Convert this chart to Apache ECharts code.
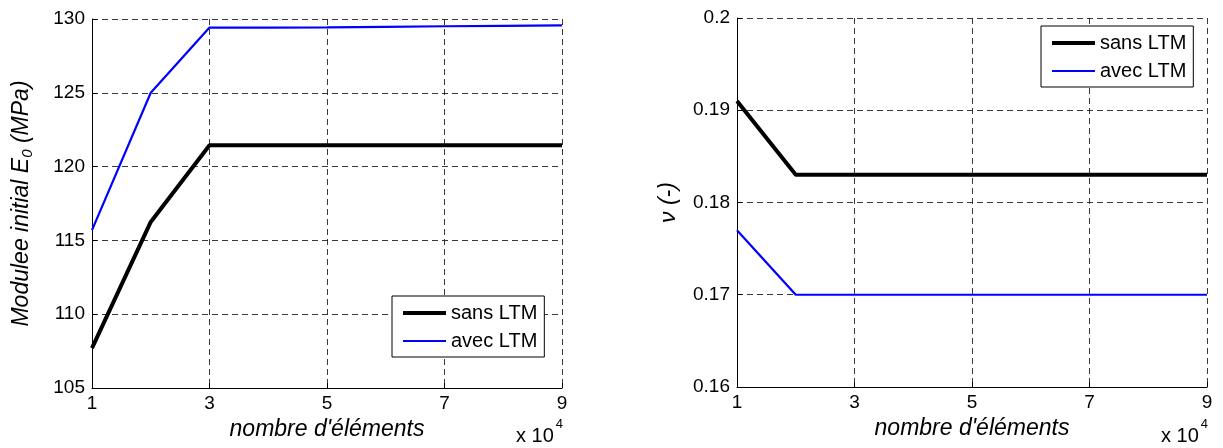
<!DOCTYPE html>
<html>
<head>
<meta charset="utf-8">
<script src="https://cdn.jsdelivr.net/npm/echarts@6/dist/echarts.min.js"></script>
<style>
html,body{margin:0;padding:0;background:#fff;}
#chart{width:1223px;height:448px;}
</style>
</head>
<body>
<div id="chart"></div>
<script>
// x values in units of 10^4 elements
const xValues = [1, 2, 3, 4, 5, 6, 7, 8, 9];
const xTicks = [1, 3, 5, 7, 9];
const seriesNames = ['sans LTM', 'avec LTM'];
// Left panel: initial modulus E0 (MPa)
const e0Sans = [107.7, 116.25, 121.45, 121.45, 121.45, 121.45, 121.45, 121.45, 121.45];
const e0Avec = [115.7, 125.0, 129.42, 129.42, 129.43, 129.47, 129.51, 129.54, 129.57];
const e0Ticks = [105, 110, 115, 120, 125, 130];
// Right panel: Poisson ratio nu (-)
const nuSans = [0.191, 0.183, 0.183, 0.183, 0.183, 0.183, 0.183, 0.183, 0.183];
const nuAvec = [0.177, 0.170, 0.170, 0.170, 0.170, 0.170, 0.170, 0.170, 0.170];
const nuTicks = [0.16, 0.17, 0.18, 0.19, 0.2];

const FONT = 'Liberation Sans, Arial, Helvetica, sans-serif';
const COLORS = ['#000000', '#0000ff'];
const WIDTHS = [4, 2.2];
const pair = (xs, ys) => xs.map((x, i) => [x, ys[i]]);

const chart = echarts.init(document.getElementById('chart'), null, {renderer: 'canvas'});

const gridLine = {show: true, lineStyle: {color: '#222', width: 0.9, type: [6, 4]}};
function xAxisDef(gi) {
  return {
    type: 'value', gridIndex: gi, min: xTicks[0], max: xTicks[xTicks.length - 1],
    interval: xTicks[1] - xTicks[0],
    name: "nombre d'éléments", nameLocation: 'middle', nameGap: 19,
    nameTextStyle: {fontFamily: FONT, fontSize: 23, fontStyle: 'italic', color: '#000'},
    axisLine: {show: true, onZero: false, lineStyle: {color: '#000', width: 1}},
    axisTick: {show: true, inside: true, length: 5, lineStyle: {color: '#000'}},
    axisLabel: {fontFamily: FONT, fontSize: 19, color: '#000', margin: 6},
    splitLine: gridLine
  };
}
function yAxisDef(gi, ticks, name, rich, gap) {
  return {
    type: 'value', gridIndex: gi, min: ticks[0], max: ticks[ticks.length - 1],
    interval: +(ticks[1] - ticks[0]).toFixed(6),
    name: name, nameLocation: 'middle', nameGap: gap, nameRotate: 90,
    nameTextStyle: {fontFamily: FONT, fontSize: 23, fontStyle: 'italic', color: '#000', rich: rich},
    axisLine: {show: true, onZero: false, lineStyle: {color: '#000', width: 1}},
    axisTick: {show: true, inside: true, length: 5, lineStyle: {color: '#000'}},
    axisLabel: {fontFamily: FONT, fontSize: 19, color: '#000', margin: 7,
      formatter: v => String(+v.toFixed(4))},
    splitLine: gridLine
  };
}
const legendDef = (left, top) => ({
  left: left, top: top, orient: 'vertical',
  data: seriesNames.map((n, i) => ({
    name: n,
    lineStyle: {color: COLORS[i], width: WIDTHS[i]},
    itemStyle: {color: 'rgba(0,0,0,0)', borderWidth: 0, opacity: 0}
  })),
  backgroundColor: '#fff', borderColor: '#000', borderWidth: 1, borderRadius: 0,
  padding: [7, 7, 6, 9], itemGap: 8, itemWidth: 43, itemHeight: 14,
  itemStyle: {color: 'rgba(0,0,0,0)', borderWidth: 0, opacity: 0},
  textStyle: {fontFamily: FONT, fontSize: 20, color: '#000'}
});
const lineSeries = (idx, data, gi) => ({
  name: seriesNames[idx], type: 'line', xAxisIndex: gi, yAxisIndex: gi,
  data: data, symbol: 'none', showSymbol: false, animation: false,
  lineStyle: {color: COLORS[idx], width: WIDTHS[idx]}, itemStyle: {color: COLORS[idx]}, z: 5
});
const richName = {
  i: {fontFamily: FONT, fontSize: 23, fontStyle: 'italic', color: '#000', lineHeight: 27},
  s: {fontFamily: FONT, fontSize: 15, fontStyle: 'italic', color: '#000', lineHeight: 14, verticalAlign: 'bottom'}
};
const richExp = {
  a: {fontFamily: FONT, fontSize: 20, color: '#000', lineHeight: 28, verticalAlign: 'bottom'},
  b: {fontFamily: FONT, fontSize: 13, color: '#000', lineHeight: 28, verticalAlign: 'top', padding: [0, 0, 0, 2]}
};

chart.setOption({
  backgroundColor: '#fff',
  animation: false,
  grid: [
    {left: 92, top: 19, width: 470, height: 369, containLabel: false},
    {left: 737, top: 18, width: 470, height: 369, containLabel: false}
  ],
  xAxis: [xAxisDef(0), xAxisDef(1)],
  yAxis: [
    yAxisDef(0, e0Ticks, '{i|Modulee initial E}{s|0}{i| (MPa)}', richName, 57),
    yAxisDef(1, nuTicks, '{i|ν (-)}', richName, 55)
  ],
  legend: [legendDef(392, 296), legendDef(1041, 26)],
  graphic: [
    {type: 'text', left: 516, top: 418, style: {text: '{a|x 10}{b|4}', rich: richExp}},
    {type: 'text', left: 1161, top: 418, style: {text: '{a|x 10}{b|4}', rich: richExp}}
  ],
  series: [
    lineSeries(0, pair(xValues, e0Sans), 0),
    lineSeries(1, pair(xValues, e0Avec), 0),
    lineSeries(0, pair(xValues, nuSans), 1),
    lineSeries(1, pair(xValues, nuAvec), 1)
  ]
});
</script>
</body>
</html>
